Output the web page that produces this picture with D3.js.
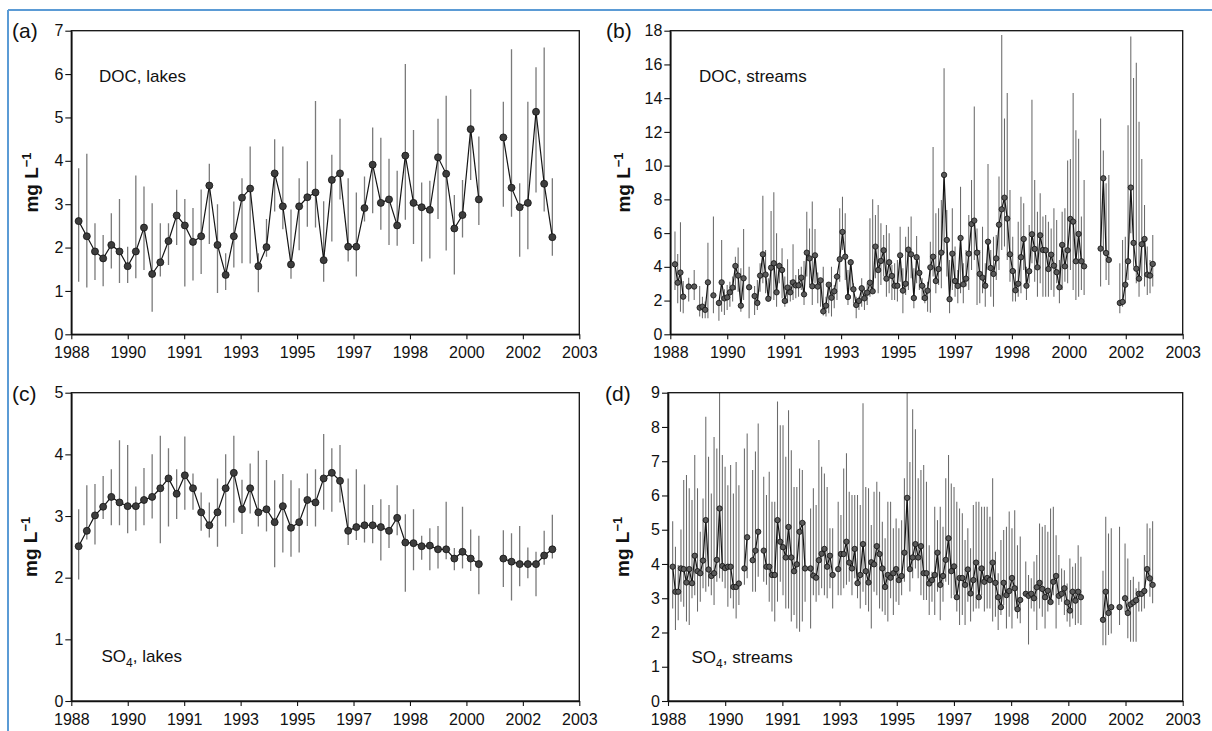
<!DOCTYPE html>
<html><head><meta charset="utf-8">
<script src="https://cdn.jsdelivr.net/npm/d3@7"></script>
<style>
body{margin:0;background:#fff}
svg{display:block}
text{font-family:"Liberation Sans",Arial,Helvetica,sans-serif;fill:#111}
</style>
</head><body>
<svg id="chart" width="1212" height="731"></svg>
<script>
// ---------- tick labels ----------
const xTickLabels = ["1988","1990","1991","1993","1995","1997","1998","2000","2002","2003"];

// ---------- (a) DOC, lakes (quarterly) ----------
const docLakesMean = [2.61,2.26,1.91,1.75,2.06,1.91,1.57,1.91,2.46,1.39,1.66,2.15,2.74,2.51,2.13,2.26,3.43,2.06,1.37,2.26,3.15,3.36,1.57,2.01,3.71,2.95,1.61,2.95,3.16,3.27,1.71,3.56,3.71,2.02,2.02,2.91,3.91,3.03,3.11,2.51,4.12,3.03,2.93,2.87,4.08,3.70,2.44,2.75,4.73,3.11,null,null,4.54,3.38,2.93,3.03,5.13,3.47,2.24];
const docLakesHi = [3.83,4.16,2.56,2.29,2.79,3.12,2.02,3.66,3.41,3.02,2.56,2.56,3.33,3.12,2.91,3.34,3.93,3.00,1.87,3.06,3.60,4.33,1.87,2.66,4.50,4.33,2.88,3.60,3.99,5.38,3.07,4.14,4.97,3.60,3.27,3.64,4.77,4.53,4.05,3.77,6.23,4.71,3.50,3.54,4.97,5.50,3.21,3.56,5.65,4.56,null,null,5.36,6.57,3.48,5.36,6.16,6.61,3.60];
const docLakesLo = [1.21,1.08,1.25,1.11,1.52,1.18,1.18,1.29,1.48,0.52,1.33,1.60,2.06,1.10,1.24,1.39,2.08,0.95,1.02,1.54,1.64,1.63,0.97,1.79,2.83,2.42,1.28,1.94,2.48,2.46,1.21,2.14,3.11,1.68,1.33,2.60,2.79,2.41,2.06,2.04,2.64,2.08,1.68,1.75,2.66,1.93,1.38,2.23,3.56,2.52,null,null,2.94,2.71,1.79,1.96,3.27,2.83,1.81];

// ---------- (b) DOC, streams (monthly) ----------
const docStreamsMean = [4.15,3.06,3.66,2.23,null,2.83,null,2.83,null,1.58,
1.64,1.45,3.08,null,2.31,null,1.86,3.08,2.13,2.19,
2.49,2.77,4.05,3.48,1.70,3.32,null,2.79,null,2.27,
1.86,3.48,4.74,3.54,2.11,3.95,4.21,2.49,4.05,3.81,
1.98,2.77,2.49,3.08,2.90,2.90,3.36,2.37,4.84,4.50,
2.85,4.68,2.83,3.20,1.36,1.70,2.94,2.17,2.55,3.42,
4.45,6.07,4.60,2.21,4.27,2.67,1.74,1.98,2.73,2.13,
2.47,3.06,2.55,5.20,3.81,4.35,4.98,3.30,4.27,3.46,
2.88,2.88,4.68,2.59,3.00,5.02,4.74,2.15,4.57,3.64,
2.88,2.15,2.59,3.97,4.60,3.16,3.87,4.84,9.45,5.59,
2.08,4.78,3.16,2.87,5.71,2.96,3.30,4.78,6.54,6.74,
4.84,3.58,3.36,2.88,5.49,3.93,3.58,4.50,6.50,7.41,
8.10,6.86,4.74,3.75,2.61,3.00,4.57,5.65,2.88,3.74,
5.93,5.06,3.97,5.87,5.00,4.98,3.87,4.72,4.07,3.68,
2.79,5.30,4.03,4.98,6.84,6.68,4.33,5.95,4.33,4.03,
null,null,null,null,null,5.08,9.25,4.82,4.41,null,
null,null,1.86,1.92,2.94,4.33,8.70,5.42,3.89,3.30,
5.34,5.65,3.54,3.48,4.17];
const docStreamsHi = [6.09,4.76,6.64,3.16,null,3.36,null,3.81,null,2.87,
2.23,1.94,5.43,null,6.98,null,2.04,5.59,2.67,2.92,
3.12,3.42,4.60,5.14,3.91,6.25,null,4.01,null,2.87,
3.22,4.21,8.22,5.00,3.32,7.31,8.42,5.99,4.25,5.10,
3.42,4.45,3.22,5.34,3.52,3.87,4.01,4.35,7.27,6.28,
7.87,6.25,3.66,3.22,4.01,2.23,3.06,4.01,2.92,3.62,
7.47,8.16,7.17,3.81,4.45,3.02,2.23,2.23,3.32,2.73,
3.02,6.88,8.00,7.08,7.67,6.58,5.89,6.48,5.99,4.11,
4.21,4.41,6.38,3.91,5.79,6.38,6.98,3.91,5.83,4.50,
3.32,2.92,3.12,5.49,11.1,7.17,7.47,7.96,15.77,7.37,
4.41,7.47,5.20,3.81,8.75,4.21,5.00,7.08,9.15,13.5,
6.28,5.00,6.38,4.21,10.1,5.00,5.79,5.89,9.35,17.75,
12.8,14.3,8.56,5.79,3.81,6.68,8.16,7.77,4.01,6.48,
13.9,9.15,7.27,8.36,6.98,7.08,6.68,6.28,7.47,6.78,
4.41,7.27,7.47,10.3,10.4,14.3,12.1,11.6,6.98,9.15,
null,null,null,null,null,12.8,10.9,8.95,9.45,null,
null,null,4.21,5.59,5.79,12.4,17.65,15.2,16.1,12.6,
10.4,7.67,5.20,4.41,5.89];
const docStreamsLo = [2.63,1.84,1.34,1.25,null,1.94,null,2.04,null,1.05,
0.95,0.95,0.95,null,1.25,null,0.81,1.34,1.15,1.44,
1.64,1.94,2.63,2.53,1.34,2.04,null,0.95,null,1.15,
1.44,2.53,3.02,2.43,1.94,2.13,2.04,1.64,3.02,2.13,
1.64,1.84,1.94,2.04,2.13,2.23,2.63,1.74,3.42,2.92,
1.74,3.02,1.84,1.64,1.11,1.05,1.25,1.05,1.54,2.04,
3.12,5.00,3.22,1.74,2.63,1.84,0.95,1.44,1.64,1.44,
1.74,2.23,2.63,3.32,2.43,2.92,3.42,2.23,2.43,2.04,
2.04,1.94,3.12,1.25,2.33,2.63,3.32,1.54,3.02,2.63,
2.04,1.84,1.34,1.28,3.42,2.43,2.92,2.73,4.80,3.42,
1.25,2.63,2.23,1.84,2.43,1.84,2.83,2.63,3.81,4.41,
1.74,1.84,2.43,1.64,3.81,2.23,1.64,3.22,3.81,5.00,
5.20,4.41,3.12,1.94,1.94,2.23,2.43,3.81,2.04,3.02,
4.21,3.12,2.23,3.02,2.23,2.23,2.23,2.63,2.23,3.02,
1.84,2.63,3.12,3.02,3.81,2.63,2.04,2.23,2.63,2.33,
null,null,null,null,null,2.83,4.80,3.22,2.92,null,
null,null,1.25,1.64,1.84,3.22,5.99,4.01,3.02,2.23,
3.42,2.83,2.33,2.43,2.83];

// ---------- (c) SO4, lakes (quarterly) ----------
const so4LakesMean = [2.51,2.76,3.01,3.15,3.31,3.22,3.16,3.16,3.26,3.31,3.45,3.61,3.36,3.66,3.45,3.06,2.85,3.06,3.45,3.70,3.11,3.45,3.06,3.11,2.90,3.16,2.81,2.90,3.26,3.22,3.61,3.70,3.57,2.76,2.82,2.85,2.85,2.82,2.76,2.97,2.57,2.56,2.51,2.52,2.46,2.46,2.31,2.42,2.31,2.22,null,null,2.31,2.26,2.22,2.22,2.22,2.36,2.46];
const so4LakesHi = [3.11,3.50,3.52,3.65,3.76,4.23,4.15,3.48,3.78,4.00,4.30,4.10,3.76,4.29,3.69,3.38,3.22,3.61,4.00,4.30,3.59,3.85,4.06,3.91,3.58,3.68,3.58,3.45,3.69,3.76,4.33,4.10,4.15,3.61,3.76,3.51,3.18,3.27,3.18,3.50,3.03,3.11,2.68,2.80,2.84,3.23,2.48,3.15,2.78,2.68,null,null,2.77,2.72,2.84,2.49,2.42,2.76,3.02];
const so4LakesLo = [1.97,2.62,2.54,2.95,2.85,2.85,2.72,2.76,2.85,2.96,2.56,2.83,2.95,3.10,3.10,2.76,2.65,2.50,2.83,2.89,2.71,3.04,2.83,2.75,2.17,2.41,2.34,2.41,2.84,2.83,3.10,3.07,3.22,2.53,2.61,2.57,2.56,2.28,2.48,2.69,1.77,2.12,2.29,2.12,2.15,2.30,2.12,2.15,2.11,1.73,null,null,1.85,1.63,1.86,1.99,1.70,2.21,2.31];

// ---------- (d) SO4, streams (monthly) ----------
const so4StreamsMean = [3.92,3.19,3.19,3.87,3.85,3.46,3.85,3.44,4.24,3.79,
3.73,4.10,5.28,3.84,3.65,3.73,4.12,5.62,3.94,3.88,
3.92,3.92,3.33,3.33,3.43,null,3.87,4.78,null,4.11,
4.39,4.94,null,4.39,3.92,3.92,3.68,3.68,5.28,4.65,
4.49,4.19,5.08,4.19,3.79,3.99,4.94,5.20,3.87,null,
3.87,3.66,3.60,4.11,4.30,4.44,3.92,4.24,3.68,null,
3.85,4.29,4.29,4.65,4.04,3.87,4.44,3.44,3.68,4.58,
3.79,3.46,4.05,3.99,4.52,4.29,3.87,3.33,3.68,3.60,
3.73,3.85,3.53,3.65,4.33,5.93,3.85,4.19,4.58,4.19,
4.52,3.73,3.73,3.43,3.53,3.68,4.33,3.39,3.65,4.12,
4.75,3.79,3.93,3.03,3.59,3.59,3.39,3.84,3.14,3.53,
4.04,3.03,3.87,3.48,3.59,3.53,4.04,3.45,3.03,2.74,
3.45,3.09,3.21,3.59,3.29,2.68,2.95,null,3.13,3.07,
3.13,3.00,3.32,3.45,3.27,3.03,3.22,2.89,3.48,3.65,
3.07,3.13,3.29,2.88,2.64,3.19,2.93,3.19,3.03,null,
null,null,null,null,null,null,2.37,3.19,2.57,2.74,
null,null,2.74,null,3.00,2.57,2.82,2.88,2.94,3.13,
3.13,3.21,3.85,3.58,3.39];
const so4StreamsHi = [5.25,4.50,3.97,5.01,6.45,6.60,6.21,5.87,7.18,6.21,
4.94,5.91,8.30,7.13,6.06,7.71,7.37,9.30,7.18,6.84,
6.30,6.89,6.06,6.98,6.30,null,7.37,7.81,null,6.74,
7.28,8.10,null,6.55,6.01,6.69,5.82,5.82,8.74,8.05,
8.05,7.13,8.49,7.32,6.25,6.25,6.79,6.74,5.23,null,
5.62,6.21,5.72,7.62,6.84,6.64,6.25,5.04,5.04,null,
5.82,5.43,6.79,7.23,6.11,6.01,6.01,6.01,5.72,8.69,
6.25,6.21,5.14,6.11,6.40,6.11,5.23,4.75,5.82,5.82,
5.04,5.33,5.04,5.28,6.50,9.30,6.98,8.52,7.93,6.50,
6.74,6.89,6.40,4.55,3.77,5.67,5.28,5.67,5.09,6.50,
7.18,6.35,6.25,5.82,5.62,5.48,4.70,5.04,4.46,5.72,
5.82,5.82,5.67,5.67,5.67,5.38,6.50,4.36,3.73,4.70,
4.99,5.09,5.53,5.04,5.57,4.55,4.80,null,4.07,3.68,
3.58,4.07,4.26,5.18,5.09,5.14,4.94,5.62,5.67,4.84,
4.26,3.87,3.82,3.43,4.16,3.92,4.02,4.55,4.21,null,
null,null,null,null,null,null,3.80,5.38,4.89,5.04,
null,null,5.09,null,4.60,4.16,3.53,3.63,3.29,3.48,
3.19,4.26,5.18,5.04,5.25];
const so4StreamsLo = [2.70,2.07,2.36,2.90,2.75,2.32,2.22,3.00,3.09,2.61,
2.90,3.29,3.19,3.34,3.09,2.80,3.48,3.58,3.48,3.29,
2.75,3.00,2.70,2.41,2.80,null,3.39,3.58,null,3.19,
3.19,3.63,null,3.48,3.39,2.90,2.61,2.32,2.90,3.48,
3.09,2.70,2.70,2.32,2.51,2.12,2.02,2.32,2.90,null,
2.12,3.09,2.90,3.09,3.29,3.09,3.00,3.29,2.70,null,
3.09,3.09,3.29,3.39,3.48,3.09,3.58,3.00,2.70,3.19,
2.80,2.61,2.12,3.19,3.09,2.70,2.61,2.51,2.32,3.00,
2.51,2.90,2.80,3.09,3.48,3.90,3.20,3.58,3.87,3.58,
3.09,2.95,2.95,2.51,2.90,2.51,3.19,2.36,2.90,3.48,
3.39,3.00,3.09,2.61,2.22,2.51,2.22,2.90,2.32,2.61,
2.70,2.70,3.09,2.61,2.70,2.70,2.32,2.46,2.07,2.51,
2.80,2.12,2.46,2.12,2.70,2.41,2.27,null,3.09,1.65,
2.70,2.61,2.07,2.70,2.46,2.12,2.61,2.90,3.09,2.12,
2.80,2.90,2.51,2.32,2.17,2.41,2.22,2.27,2.22,null,
null,null,null,null,null,null,1.63,1.63,1.93,1.97,
null,null,2.22,null,2.60,1.83,1.73,1.73,1.73,2.61,
2.61,2.70,3.58,3.04,2.85];

// ---------- layout ----------
const svg = d3.select("#chart");
const monthSpan = 186.6;          // months covered by the x axis (from Jan 1988)
const FONT = '"Liberation Sans",Arial,Helvetica,sans-serif';

// blue outer frame
svg.append("line").attr("x1",8).attr("x2",1212).attr("y1",10).attr("y2",10)
  .attr("stroke","#5b9bd5").attr("stroke-width",2);
svg.append("line").attr("x1",8).attr("x2",8).attr("y1",10).attr("y2",731)
  .attr("stroke","#5b9bd5").attr("stroke-width",2);

const panels = [
  {tag:"(a)", tagXY:[12,37.5], box:[71.3,30.7,579.3,334.3], yMax:7, yStep:1,
   mean:docLakesMean, hi:docLakesHi, lo:docLakesLo, start:2.7, step:3, r:3.5, fill:"#3d3d3d",
   bar:"#7a7a7a", barW:1.3,
   name:["DOC, lakes"], nameXY:[99,81.5], ylabX:37.5},
  {tag:"(b)", tagXY:[606,38], box:[670.3,30.7,1182.7,334.3], yMax:18, yStep:2,
   mean:docStreamsMean, hi:docStreamsHi, lo:docStreamsLo, start:1.7, step:1, r:2.7, fill:"#595959",
   bar:"#6a6a6a", barW:1.05,
   name:["DOC, streams"], nameXY:[699,81.5], ylabX:629.5},
  {tag:"(c)", tagXY:[12,400.5], box:[71.3,392.7,579.3,701], yMax:5, yStep:1,
   mean:so4LakesMean, hi:so4LakesHi, lo:so4LakesLo, start:2.7, step:3, r:3.5, fill:"#3d3d3d",
   bar:"#7a7a7a", barW:1.3,
   name:["SO","4",", lakes"], nameXY:[101.5,661.5], ylabX:37},
  {tag:"(d)", tagXY:[605,400.5], box:[668,392.7,1182.7,701], yMax:9, yStep:1,
   mean:so4StreamsMean, hi:so4StreamsHi, lo:so4StreamsLo, start:1.7, step:1, r:2.7, fill:"#595959",
   bar:"#6a6a6a", barW:1.05,
   name:["SO","4",", streams"], nameXY:[691.5,663], ylabX:629}
];

panels.forEach((p,pi)=>{
  const [L,T,R,B] = p.box;
  const x = d3.scaleLinear().domain([0,monthSpan]).range([L,R]);
  const y = d3.scaleLinear().domain([0,p.yMax]).range([B,T]);
  const g = svg.append("g");

  const clipId = "clip"+pi;
  svg.append("clipPath").attr("id",clipId).append("rect")
    .attr("x",L).attr("y",T).attr("width",R-L).attr("height",B-T);

  const data = p.mean.map((v,i)=>({m:p.start+p.step*i, v, hi:p.hi[i], lo:p.lo[i]}));

  // error bars
  g.append("g").attr("clip-path",`url(#${clipId})`)
    .selectAll("line").data(data.filter(d=>d.v!=null && d.hi!=null))
    .join("line")
    .attr("x1",d=>x(d.m)).attr("x2",d=>x(d.m))
    .attr("y1",d=>y(d.lo)).attr("y2",d=>y(d.hi))
    .attr("stroke",p.bar).attr("stroke-width",p.barW);

  // connecting line
  const line = d3.line().defined(d=>d.v!=null).x(d=>x(d.m)).y(d=>y(d.v));
  g.append("path").datum(data).attr("d",line)
    .attr("fill","none").attr("stroke","#151515").attr("stroke-width",1.2);

  // markers
  g.append("g").selectAll("circle").data(data.filter(d=>d.v!=null))
    .join("circle")
    .attr("cx",d=>x(d.m)).attr("cy",d=>y(d.v)).attr("r",p.r)
    .attr("fill",p.fill).attr("stroke","#111").attr("stroke-width",0.8);

  // frame (top & right)
  g.append("rect").attr("x",L).attr("y",T).attr("width",R-L).attr("height",B-T)
    .attr("fill","none").attr("stroke","#111").attr("stroke-width",1.3);

  // axes
  const xTicks = d3.range(xTickLabels.length).map(k=>k*monthSpan/(xTickLabels.length-1));
  const xAxis = d3.axisBottom(x).tickValues(xTicks).tickFormat((d,i)=>xTickLabels[i])
    .tickSize(5).tickSizeOuter(0).tickPadding(7.6);
  const gx = g.append("g").attr("transform",`translate(0,${B})`).call(xAxis);
  const yAxis = d3.axisLeft(y).tickValues(d3.range(0,p.yMax+p.yStep/2,p.yStep))
    .tickFormat(d3.format("d")).tickSize(6).tickSizeOuter(0).tickPadding(2);
  const gy = g.append("g").attr("transform",`translate(${L},0)`).call(yAxis);
  [gx,gy].forEach(a=>{
    a.select(".domain").attr("stroke","#111").attr("stroke-width",1.6);
    a.selectAll(".tick line").attr("stroke","#111").attr("stroke-width",1.1);
    a.selectAll("text").attr("font-size",16).attr("font-family",FONT).attr("fill","#111");
  });

  // panel tag
  g.append("text").attr("x",p.tagXY[0]).attr("y",p.tagXY[1])
    .attr("font-size",21).text(p.tag);

  // y-axis title
  const yl = g.append("text")
    .attr("transform",`translate(${p.ylabX},${(T+B)/2}) rotate(-90)`)
    .attr("text-anchor","middle").attr("font-size",19).attr("font-weight","bold");
  yl.append("tspan").text("mg L");
  yl.append("tspan").attr("dy",-7).attr("font-size",13).text("\u22121");

  // series name inside plot
  const nt = g.append("text").attr("x",p.nameXY[0]).attr("y",p.nameXY[1]).attr("font-size",17);
  if (p.name.length===1) nt.text(p.name[0]);
  else {
    nt.append("tspan").text(p.name[0]);
    nt.append("tspan").attr("dy",5).attr("font-size",12).text(p.name[1]);
    nt.append("tspan").attr("dy",-5).text(p.name[2]);
  }
});
</script>
</body></html>
